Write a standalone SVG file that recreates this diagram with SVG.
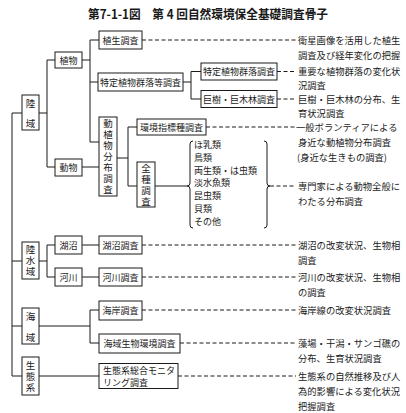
<svg xmlns="http://www.w3.org/2000/svg" width="406" height="413" viewBox="0 0 406 413">
<style>
text{font-family:"Noto Sans CJK JP","Noto Sans CJK SC",sans-serif;fill:#1a1a1a}
.t{font-size:12.5px;font-weight:bold}
.b{font-size:9px}
.v{font-size:9.5px;text-anchor:middle}
.vt{font-size:9.5px;text-anchor:middle;writing-mode:vertical-rl;letter-spacing:1.5px}
.r{font-size:9.3px}
.box{fill:#fff;stroke:#1a1a1a;stroke-width:1}
.ln{stroke:#1a1a1a;stroke-width:1;fill:none}
.ds{stroke:#1a1a1a;stroke-width:1;fill:none;stroke-dasharray:4 2.5}
</style>
<rect width="406" height="413" fill="#fff"/>
<text class="t" x="208" y="19" text-anchor="middle" textLength="240" lengthAdjust="spacingAndGlyphs">第7-1-1図　第 4 回自然環境保全基礎調査骨子</text>

<g id="connectors">
<path class="ln" d="M12,113 V376 M12,113 H22 M12,261 H22 M12,326 H22 M12,376 H22"/>
<path class="ln" d="M39,113 H47 M47,60 V167 M47,60 H55 M47,167 H55"/>
<path class="ln" d="M82,60 H90 M90,40 V142 M90,40 H99 M90,82 H98 M90,142 H99"/>
<path class="ln" d="M82,167 H99"/>
<path class="ln" d="M183,82 H191 M191,71.5 V99 M191,71.5 H201 M191,99 H201"/>
<path class="ln" d="M117,158 H128 M128,127 V186 M128,127 H137 M128,186 H137"/>
<path class="ln" d="M155,186 H187"/>
<path class="ln" d="M193,141 q-3,0 -3,3 V183 q0,3 -3,3 q3,0 3,3 V225 q0,3 3,3"/>
<path class="ln" d="M264,141 q3,0 3,3 V183 q0,3 3,3 q-3,0 -3,3 V225 q0,3 -3,3"/>
<path class="ln" d="M39,261 H47 M47,245 V277 M47,245 H55 M47,277 H55 M82,245 H99 M82,277 H99"/>
<path class="ln" d="M39,326 H90 M90,310 V343 M90,310 H99 M90,343 H99"/>
<path class="ln" d="M39,376 H99"/>
<path class="ds" d="M142,40 H296 M277,71.5 H296 M277,99 H296 M206,127 H296 M270,186 H296 M142,245 H296 M142,277 H296 M142,310 H296 M180,343 H296 M178,376 H296"/>
</g>

<g id="rikuiki"><rect class="box" x="22" y="95" width="17" height="35"/><text class="v" x="30.5" y="107">陸</text><text class="v" x="30.5" y="127">域</text></g>
<g id="shokubutsu"><rect class="box" x="55" y="52" width="27" height="16"/><text class="b" x="68.5" y="63.5" text-anchor="middle">植物</text></g>
<g id="doubutsu"><rect class="box" x="55" y="159" width="27" height="17"/><text class="b" x="68.5" y="170.5" text-anchor="middle">動物</text></g>
<g id="shokusei"><rect class="box" x="99" y="31" width="43" height="18"/><text class="b" x="120.5" y="43.5" text-anchor="middle">植生調査</text></g>
<g id="tokutei-tou"><rect class="box" x="98" y="73" width="85" height="18"/><text class="b" x="140.5" y="85.5" text-anchor="middle">特定植物群落等調査</text></g>
<g id="tokutei"><rect class="box" x="201" y="63" width="76" height="17"/><text class="b" x="239" y="75" text-anchor="middle">特定植物群落調査</text></g>
<g id="kyoju"><rect class="box" x="201" y="90.5" width="76" height="17"/><text class="b" x="239" y="102.5" text-anchor="middle">巨樹・巨木林調査</text></g>
<g id="dousyokubutsu"><rect class="box" x="99" y="117" width="18" height="79"/>
<text class="vt" x="108" y="157.3">動植物分布調査</text></g>
<g id="kankyoshihyo"><rect class="box" x="137" y="119" width="69" height="16"/><text class="b" x="171.5" y="130.5" text-anchor="middle">環境指標種調査</text></g>
<g id="zenshu"><rect class="box" x="137" y="162" width="18" height="45"/>
<text class="vt" x="146" y="185.3">全種調査</text></g>
<g id="animals"><text class="b" x="194" y="148"><tspan x="194">ほ乳類</tspan><tspan x="194" dy="12.8">鳥類</tspan><tspan x="194" dy="12.8">両生類・は虫類</tspan><tspan x="194" dy="12.8">淡水魚類</tspan><tspan x="194" dy="12.8">昆虫類</tspan><tspan x="194" dy="12.8">貝類</tspan><tspan x="194" dy="12.8">その他</tspan></text></g>

<g id="rikusuiiki"><rect class="box" x="22" y="242" width="17" height="37"/><text class="vt" x="30.5" y="261.3">陸水域</text></g>
<g id="koshou"><rect class="box" x="55" y="236" width="27" height="18"/><text class="b" x="68.5" y="248.5" text-anchor="middle">湖沼</text></g>
<g id="kasen"><rect class="box" x="55" y="268" width="27" height="18"/><text class="b" x="68.5" y="280.5" text-anchor="middle">河川</text></g>
<g id="koshou-chousa"><rect class="box" x="99" y="236" width="43" height="18"/><text class="b" x="120.5" y="248.5" text-anchor="middle">湖沼調査</text></g>
<g id="kasen-chousa"><rect class="box" x="99" y="268" width="43" height="18"/><text class="b" x="120.5" y="280.5" text-anchor="middle">河川調査</text></g>

<g id="kaiiki"><rect class="box" x="22" y="308" width="17" height="36"/><text class="v" x="30.5" y="320">海</text><text class="v" x="30.5" y="341">域</text></g>
<g id="kaigan"><rect class="box" x="99" y="301" width="43" height="19"/><text class="b" x="120.5" y="313.5" text-anchor="middle">海岸調査</text></g>
<g id="kaiiki-seibutsu"><rect class="box" x="99" y="334" width="81" height="19"/><text class="b" x="139.5" y="346.5" text-anchor="middle">海域生物環境調査</text></g>

<g id="seitaikei"><rect class="box" x="22" y="357" width="17" height="38"/><text class="vt" x="30.5" y="376.8">生態系</text></g>
<g id="monitoring"><rect class="box" x="99" y="363.5" width="79" height="25"/><text class="b" x="103" y="373.5"><tspan x="103">生態系総合モニタ</tspan><tspan x="103" dy="12">リング調査</tspan></text></g>

<g id="notes">
<text class="r" x="298" y="43.5"><tspan x="298">衛星画像を活用した植生</tspan><tspan x="298" dy="15">調査及び経年変化の把握</tspan></text>
<text class="r" x="298" y="75"><tspan x="298">重要な植物群落の変化状</tspan><tspan x="298" dy="14">況調査</tspan></text>
<text class="r" x="298" y="102.5"><tspan x="298">巨樹・巨木林の分布、生</tspan><tspan x="298" dy="14">育状況調査</tspan></text>
<text class="r" x="296" y="130.5"><tspan x="296">一般ボランティアによる</tspan><tspan x="298" dy="15">身近な動植物分布調査</tspan><tspan x="297" dy="15">(身近な生きもの調査)</tspan></text>
<text class="r" x="298" y="189.5"><tspan x="298">専門家による動物全般に</tspan><tspan x="298" dy="15">わたる分布調査</tspan></text>
<text class="r" x="298" y="248.5"><tspan x="298">湖沼の改変状況、生物相</tspan><tspan x="298" dy="15">調査</tspan></text>
<text class="r" x="298" y="280.5"><tspan x="298">河川の改変状況、生物相</tspan><tspan x="298" dy="15">の調査</tspan></text>
<text class="r" x="298" y="313.5">海岸線の改変状況調査</text>
<text class="r" x="298" y="346.5"><tspan x="298">藻場・干潟・サンゴ礁の</tspan><tspan x="298" dy="15">分布、生育状況調査</tspan></text>
<text class="r" x="298" y="379.5"><tspan x="298">生態系の自然推移及び人</tspan><tspan x="298" dy="15">為的影響による変化状況</tspan><tspan x="298" dy="15">把握調査</tspan></text>
</g>
</svg>
